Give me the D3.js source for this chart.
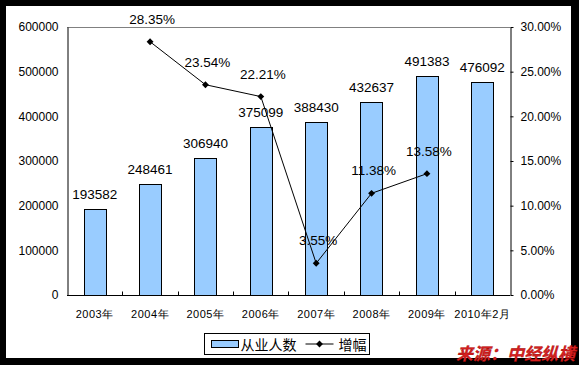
<!DOCTYPE html>
<html>
<head>
<meta charset="utf-8">
<script src="https://cdn.jsdelivr.net/npm/d3@7"></script>
<style>
  body { margin: 0; background: #000; }
  svg { display: block; }
</style>
</head>
<body>
<div id="chart"></div>
<script>
const years = ["2003年", "2004年", "2005年", "2006年", "2007年", "2008年", "2009年", "2010年2月"];
const workers = [193582, 248461, 306940, 375099, 388430, 432637, 491383, 476092];
const growth = [null, 28.35, 23.54, 22.21, 3.55, 11.38, 13.58, null];
const leftTicks = [0, 100000, 200000, 300000, 400000, 500000, 600000];
const rightTicks = [0, 5, 10, 15, 20, 25, 30];

const width = 579, height = 365;
const plot = { left: 67, top: 27, right: 510, bottom: 295 };
const font = "Arial, 'Liberation Sans', sans-serif";

const svg = d3.select("#chart").append("svg")
    .attr("width", width)
    .attr("height", height);

// black frame with white chart area
svg.append("rect").attr("width", width).attr("height", height).attr("fill", "#000");
svg.append("rect")
    .attr("x", 6).attr("y", 6)
    .attr("width", 565).attr("height", 352)
    .attr("fill", "#fff");

const x = d3.scaleBand()
    .domain(years)
    .range([plot.left, plot.right])
    .paddingInner(0.6)
    .paddingOuter(0.3);

const yLeft = d3.scaleLinear().domain([0, 600000]).range([plot.bottom, plot.top]);
const yRight = d3.scaleLinear().domain([0, 30]).range([plot.bottom, plot.top]);

// top border of plot area
svg.append("line")
    .attr("x1", plot.left).attr("x2", plot.right)
    .attr("y1", plot.top + 0.5).attr("y2", plot.top + 0.5)
    .attr("stroke", "#808080");

// left axis
const gl = svg.append("g")
    .attr("transform", `translate(${plot.left + 0.5},0)`)
    .call(d3.axisLeft(yLeft).tickValues(leftTicks).tickSize(0).tickPadding(9).tickFormat(d3.format("d")));
gl.select(".domain").attr("stroke", "#000");
gl.selectAll("text").attr("font-family", font).attr("font-size", 12).attr("fill", "#000");

// right axis
const gr = svg.append("g")
    .attr("transform", `translate(${plot.right + 0.5},0)`)
    .call(d3.axisRight(yRight).tickValues(rightTicks).tickSize(3).tickSizeOuter(0).tickPadding(7)
        .tickFormat(d => d.toFixed(2) + "%"));
gr.select(".domain").attr("stroke", "#000");
gr.selectAll("line").attr("stroke", "#000");
gr.selectAll("text").attr("font-family", font).attr("font-size", 12).attr("fill", "#000");

// bottom axis
const boundaries = years.slice(1).map(d => x(d) - x.step() * x.paddingInner() / 2);
const gb = svg.append("g")
    .attr("transform", `translate(0,${plot.bottom + 0.5})`);
gb.append("line")
    .attr("x1", plot.left).attr("x2", plot.right)
    .attr("stroke", "#000");
gb.selectAll(".tk").data(boundaries).enter().append("line")
    .attr("class", "tk")
    .attr("x1", d => Math.round(d) + 0.5).attr("x2", d => Math.round(d) + 0.5)
    .attr("y1", 0).attr("y2", -4)
    .attr("stroke", "#000");
gb.selectAll(".lbl").data(years).enter().append("text")
    .attr("class", "lbl")
    .attr("x", d => x(d) + x.bandwidth() / 2)
    .attr("y", 22)
    .attr("text-anchor", "middle")
    .attr("font-family", font)
    .attr("font-size", 11)
    .attr("letter-spacing", 0.5)
    .text(d => d);

// bars
svg.selectAll(".bar").data(workers).enter().append("rect")
    .attr("class", "bar")
    .attr("x", (d, i) => Math.round(x(years[i])) + 0.5)
    .attr("y", d => Math.round(yLeft(d)) + 0.5)
    .attr("width", Math.round(x.bandwidth()))
    .attr("height", d => plot.bottom - Math.round(yLeft(d)))
    .attr("fill", "#99CCFF")
    .attr("stroke", "#000")
    .attr("stroke-width", 1);

svg.selectAll(".barlbl").data(workers).enter().append("text")
    .attr("class", "barlbl")
    .attr("x", (d, i) => x(years[i]) + x.bandwidth() / 2)
    .attr("y", d => yLeft(d) - 10)
    .attr("text-anchor", "middle")
    .attr("font-family", font)
    .attr("font-size", 13.5)
    .text(d => d);

// growth line
const pts = growth.map((g, i) => ({ year: years[i], g })).filter(d => d.g !== null);
const line = d3.line()
    .x(d => x(d.year) + x.bandwidth() / 2)
    .y(d => yRight(d.g));

svg.append("path")
    .datum(pts)
    .attr("d", line)
    .attr("fill", "none")
    .attr("stroke", "#000")
    .attr("stroke-width", 1);

svg.selectAll(".mk").data(pts).enter().append("path")
    .attr("class", "mk")
    .attr("d", d3.symbol().type(d3.symbolDiamond2).size(30))
    .attr("transform", d => `translate(${x(d.year) + x.bandwidth() / 2},${yRight(d.g)})`)
    .attr("fill", "#000");

svg.selectAll(".glbl").data(pts).enter().append("text")
    .attr("class", "glbl")
    .attr("x", d => x(d.year) + x.bandwidth() / 2 + 2)
    .attr("y", d => yRight(d.g) - 18)
    .attr("text-anchor", "middle")
    .attr("font-family", font)
    .attr("font-size", 13.5)
    .text(d => d.g.toFixed(2) + "%");

// legend
const lg = svg.append("g").attr("transform", "translate(204.5,333.5)");
lg.append("rect")
    .attr("width", 165).attr("height", 21)
    .attr("fill", "#fff").attr("stroke", "#000");
lg.append("rect")
    .attr("x", 7).attr("y", 7).attr("width", 27).attr("height", 7)
    .attr("fill", "#99CCFF").attr("stroke", "#000");
lg.append("text")
    .attr("x", 36).attr("y", 16)
    .attr("font-family", "'Noto Sans CJK SC', sans-serif")
    .attr("font-size", 14)
    .text("从业人数");
lg.append("line")
    .attr("x1", 101).attr("x2", 129).attr("y1", 10.5).attr("y2", 10.5)
    .attr("stroke", "#000");
lg.append("path")
    .attr("d", d3.symbol().type(d3.symbolDiamond2).size(30))
    .attr("transform", "translate(115,10.5)")
    .attr("fill", "#000");
lg.append("text")
    .attr("x", 134).attr("y", 16)
    .attr("font-family", "'Noto Sans CJK SC', sans-serif")
    .attr("font-size", 14)
    .text("增幅");

// source note
svg.append("text")
    .attr("x", 456).attr("y", 360)
    .attr("font-family", "'Noto Sans CJK SC', sans-serif")
    .attr("font-size", 17)
    .attr("font-weight", "bold")
    .attr("font-style", "italic")
    .attr("fill", "#D42020")
    .attr("stroke", "#900")
    .attr("stroke-width", 0.3)
    .text("来源：中经纵横");
</script>
</body>
</html>
